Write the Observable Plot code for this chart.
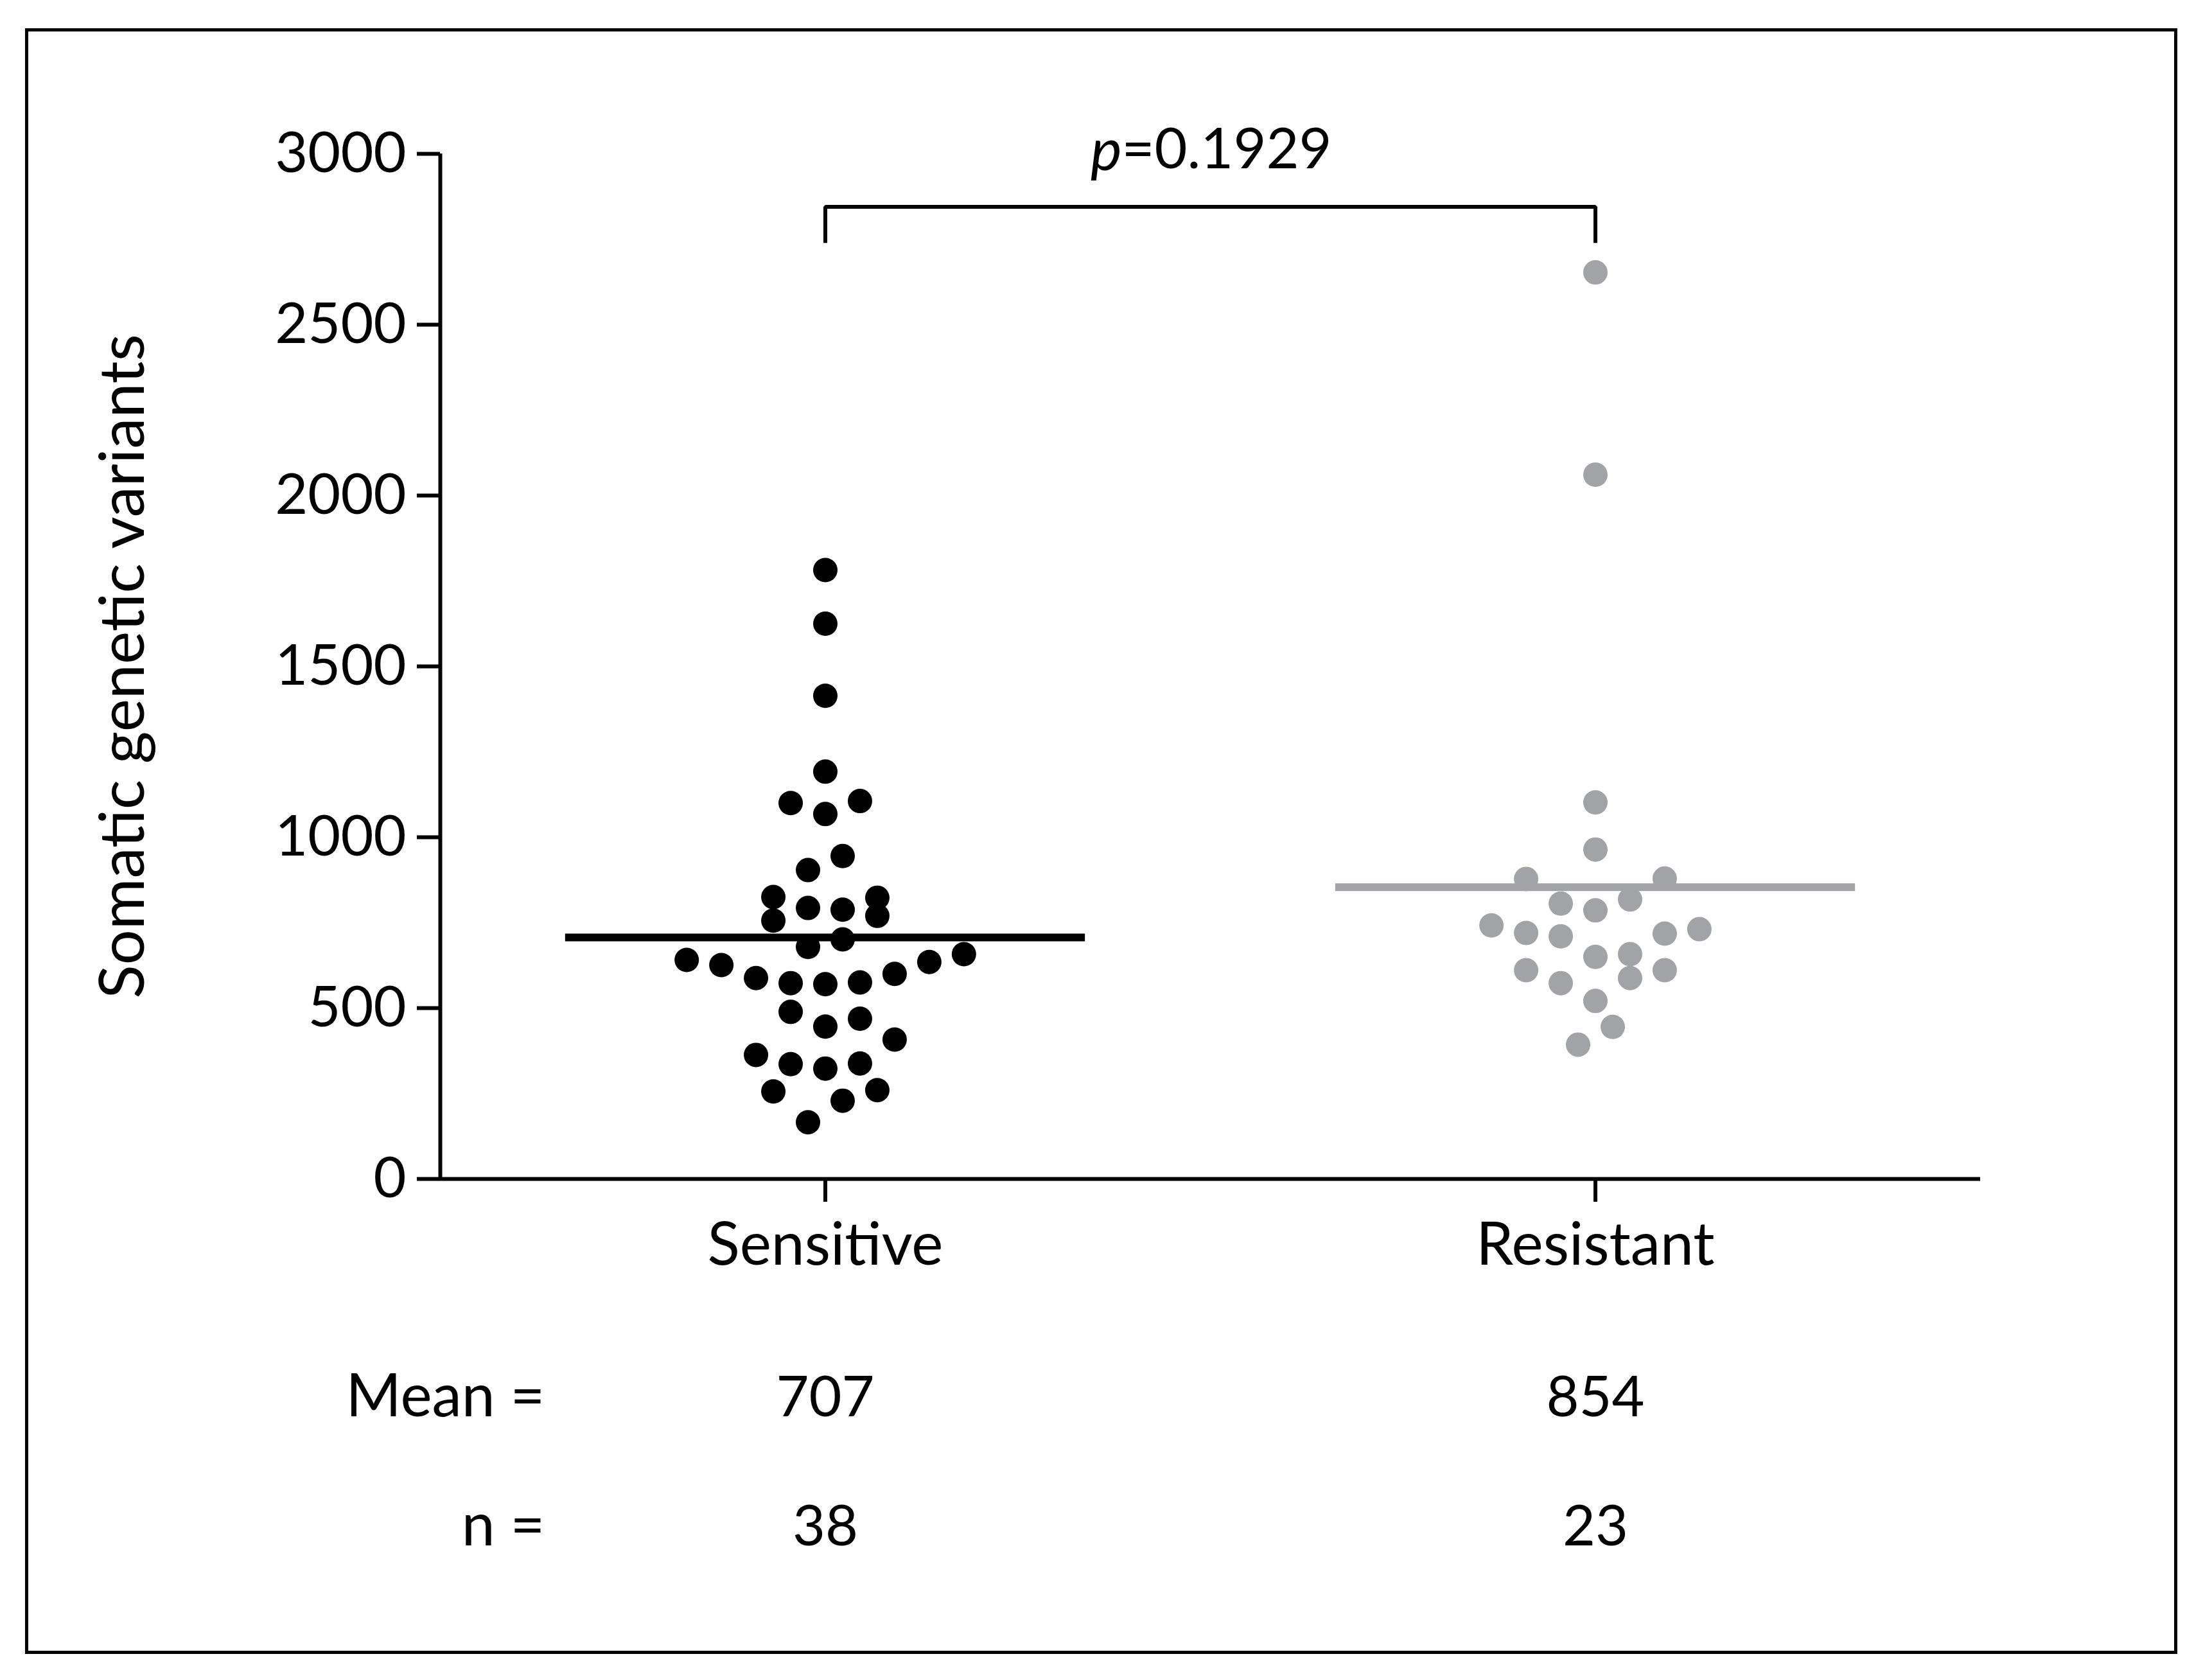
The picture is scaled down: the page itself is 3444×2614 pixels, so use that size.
<!DOCTYPE html>
<html>
<head>
<meta charset="utf-8">
<script src="https://cdn.jsdelivr.net/npm/d3@7"></script>
<script src="https://cdn.jsdelivr.net/npm/@observablehq/plot@0.6"></script>
<style>
  html, body { margin: 0; padding: 0; background: #fff; }
  #wrap { position: relative; width: 3444px; height: 2614px; }
  #chart svg { position: absolute; left: 0; top: 0; }
  #border { position: absolute; left: 39px; top: 44px; width: 3351px; height: 2531px;
            border: 5px solid #000; box-sizing: border-box; pointer-events: none; }
</style>
</head>
<body>
<div id="wrap"><div id="chart"></div><div id="border"></div></div>
<script>
// ---- data ----
const groups = ["Sensitive", "Resistant"];
const sensitiveValues = [1782, 1625, 1414, 1192, 1100, 1106, 1068, 945, 904, 825, 793, 788, 823, 756, 770, 701, 679,
  641, 626, 588, 573, 570, 575, 600, 635, 658, 489, 469, 446, 408, 363, 336, 323, 338, 256, 260, 229, 166];
// swarm lane of each point (in half-slot steps)
const sensitiveLanes = [0, 0, 0, 0, -2, 2, 0, 1, -1, -3, -1, 1, 3, -3, 3, 1, -1,
  -8, -6, -4, -2, 0, 2, 4, 6, 8, -2, 2, 0, 4, -4, -2, 0, 2, -3, 3, 1, -1];
const resistantValues = [2653, 2061, 1102, 964, 878, 879, 806, 818, 786, 742, 720, 710, 718, 731,
  650, 658, 611, 588, 611, 573, 521, 445, 393];
const resistantLanes = [0, 0, 0, 0, -4, 4, -2, 2, 0, -6, -4, -2, 4, 6, 0, 2, -4, 2, 4, -2, 0, 1, -1];
const means = [707, 854];
const counts = [38, 23];
const yTicks = [0, 500, 1000, 1500, 2000, 2500, 3000];
const pValue = "0.1929";
const yTitle = "Somatic genetic variants";

// ---- layout constants ----
const W = 3444, H = 2614;
const xDomain = [0.5, 2.5];
const laneStep = 0.0225;      // horizontal step between swarm lanes (x units)
const meanHalf = 0.3375;      // half-length of the mean line (x units)
const bracketLow = 2739, bracketHigh = 2845;
const black = "#000000", grey = "#a2a3a7";
const FS = 88;      // digits
const FSW = 93;     // words
const FST = 97;     // y title

const sensitive = sensitiveValues.map((v, i) => ({group: 1, value: v, lane: sensitiveLanes[i]}));
const resistant = resistantValues.map((v, i) => ({group: 2, value: v, lane: resistantLanes[i]}));
const stats = groups.map((g, i) => ({group: i + 1, mean: means[i], n: counts[i]}));
const bracket = [
  {x: 1, y: bracketLow}, {x: 1, y: bracketHigh}, {x: 2, y: bracketHigh}, {x: 2, y: bracketLow}
];

const chart = Plot.plot({
  width: W,
  height: H,
  marginLeft: 685,
  marginRight: 361,
  marginTop: 239,
  marginBottom: H - 1835,
  style: {background: "transparent", fontFamily: "Lato, 'Open Sans', sans-serif", fontSize: FS + "px", color: "#000"},
  x: {type: "linear", domain: xDomain},
  y: {type: "linear", domain: [0, 3000]},
  marks: [
    Plot.ruleY([0], {strokeWidth: 6}),
    Plot.ruleX([xDomain[0]], {strokeWidth: 6}),
    Plot.axisY({ticks: yTicks, tickSize: 36, tickPadding: 17, tickFormat: d => String(d),
      fontSize: FS, strokeWidth: 6, label: null}),
    Plot.axisX({ticks: [1, 2], tickSize: 36, tickPadding: 31, tickFormat: d => groups[d - 1],
      fontSize: FSW, strokeWidth: 6, label: null}),
    Plot.dot(sensitive, {x: d => d.group + d.lane * laneStep, y: "value", r: 19, fill: black, stroke: null}),
    Plot.dot(resistant, {x: d => d.group + d.lane * laneStep, y: "value", r: 19, fill: grey, stroke: null}),
    Plot.ruleY(stats.filter(d => d.group === 1), {y: "mean", x1: d => d.group - meanHalf, x2: d => d.group + meanHalf,
      stroke: black, strokeWidth: 12}),
    Plot.ruleY(stats.filter(d => d.group === 2), {y: "mean", x1: d => d.group - meanHalf, x2: d => d.group + meanHalf,
      stroke: grey, strokeWidth: 12}),
    Plot.line(bracket, {x: "x", y: "y", stroke: black, strokeWidth: 6, strokeLinejoin: "miter", strokeLinecap: "butt"}),
    Plot.text(["p"], {x: () => (1 + 2) / 2, text: d => d, frameAnchor: "top", dy: -40, dx: -138,
      textAnchor: "end", fontStyle: "italic", fontSize: FS + 4}),
    Plot.text([pValue], {x: () => (1 + 2) / 2, text: d => "=" + d, frameAnchor: "top", dy: -40, dx: -138,
      textAnchor: "start", fontSize: FS}),
    Plot.text(stats, {x: "group", text: d => String(d.mean), frameAnchor: "bottom", dy: 369, fontSize: FS}),
    Plot.text(stats, {x: "group", text: d => String(d.n), frameAnchor: "bottom", dy: 570, fontSize: FS}),
    Plot.text(["Mean ="], {text: d => d, frameAnchor: "bottom-left", dx: 163, dy: 369, textAnchor: "end", fontSize: FSW}),
    Plot.text(["n ="], {text: d => d, frameAnchor: "bottom-left", dx: 163, dy: 570, textAnchor: "end", fontSize: FSW}),
    Plot.text([yTitle], {text: d => d, frameAnchor: "left", rotate: -90, dx: -493, textAnchor: "middle", fontSize: FST})
  ]
});
document.getElementById("chart").appendChild(chart);
</script>
</body>
</html>
